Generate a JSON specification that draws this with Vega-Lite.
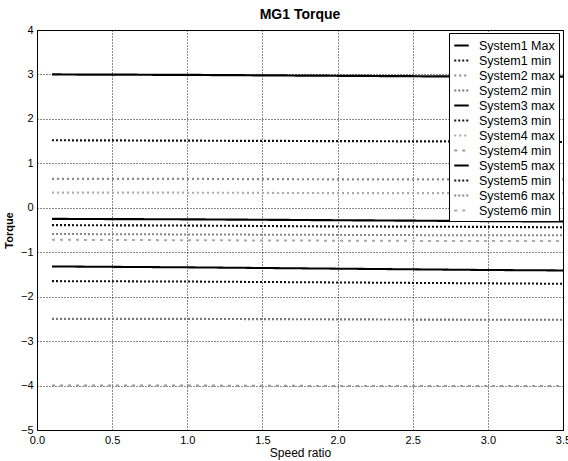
{
  "$schema": "https://vega.github.io/schema/vega-lite/v6.json",
  "width": 526,
  "height": 400,
  "autosize": {"type": "none"},
  "padding": {"left": 37, "top": 30, "right": 5, "bottom": 31},
  "background": "white",
  "title": {"text": "MG1 Torque", "fontSize": 14, "fontWeight": "bold", "font": "Liberation Sans", "color": "black", "offset": 2},
  "config": {
    "view": {"stroke": "black", "strokeWidth": 1},
    "font": "Liberation Sans",
    "axis": {"labelFont": "Liberation Sans", "labelFontSize": 11, "labelColor": "black", "titleColor": "black", "grid": true, "gridColor": "black", "gridDash": [1, 2], "gridOpacity": 0.9, "ticks": false, "domain": false, "labelPadding": 4}
  },
  "data": {"values": [
    {"s": "System1 Max", "x": 0.1, "y": 3.0}, {"s": "System1 Max", "x": 1, "y": 2.99}, {"s": "System1 Max", "x": 2, "y": 2.97}, {"s": "System1 Max", "x": 3, "y": 2.95}, {"s": "System1 Max", "x": 3.5, "y": 2.95},
    {"s": "System1 min", "x": 0.1, "y": 1.52}, {"s": "System1 min", "x": 1, "y": 1.51}, {"s": "System1 min", "x": 2, "y": 1.5}, {"s": "System1 min", "x": 3, "y": 1.49}, {"s": "System1 min", "x": 3.5, "y": 1.48},
    {"s": "System2 max", "x": 0.1, "y": 0.65}, {"s": "System2 max", "x": 1, "y": 0.65}, {"s": "System2 max", "x": 2, "y": 0.64}, {"s": "System2 max", "x": 3, "y": 0.64}, {"s": "System2 max", "x": 3.5, "y": 0.64},
    {"s": "System2 min", "x": 0.1, "y": -2.5}, {"s": "System2 min", "x": 1, "y": -2.5}, {"s": "System2 min", "x": 2, "y": -2.51}, {"s": "System2 min", "x": 3, "y": -2.52}, {"s": "System2 min", "x": 3.5, "y": -2.52},
    {"s": "System3 max", "x": 0.1, "y": -0.25}, {"s": "System3 max", "x": 1, "y": -0.26}, {"s": "System3 max", "x": 2, "y": -0.28}, {"s": "System3 max", "x": 3, "y": -0.3}, {"s": "System3 max", "x": 3.5, "y": -0.31},
    {"s": "System3 min", "x": 0.1, "y": -0.39}, {"s": "System3 min", "x": 1, "y": -0.4}, {"s": "System3 min", "x": 2, "y": -0.42}, {"s": "System3 min", "x": 3, "y": -0.43}, {"s": "System3 min", "x": 3.5, "y": -0.44},
    {"s": "System4 max", "x": 0.1, "y": 0.34}, {"s": "System4 max", "x": 1, "y": 0.34}, {"s": "System4 max", "x": 2, "y": 0.33}, {"s": "System4 max", "x": 3, "y": 0.33}, {"s": "System4 max", "x": 3.5, "y": 0.33},
    {"s": "System4 min", "x": 0.1, "y": -4.0}, {"s": "System4 min", "x": 1, "y": -4.0}, {"s": "System4 min", "x": 2, "y": -4.01}, {"s": "System4 min", "x": 3, "y": -4.01}, {"s": "System4 min", "x": 3.5, "y": -4.01},
    {"s": "System5 max", "x": 0.1, "y": -1.32}, {"s": "System5 max", "x": 1, "y": -1.34}, {"s": "System5 max", "x": 2, "y": -1.37}, {"s": "System5 max", "x": 3, "y": -1.4}, {"s": "System5 max", "x": 3.5, "y": -1.41},
    {"s": "System5 min", "x": 0.1, "y": -1.65}, {"s": "System5 min", "x": 1, "y": -1.66}, {"s": "System5 min", "x": 2, "y": -1.68}, {"s": "System5 min", "x": 3, "y": -1.7}, {"s": "System5 min", "x": 3.5, "y": -1.71},
    {"s": "System6 max", "x": 0.1, "y": -0.59}, {"s": "System6 max", "x": 1, "y": -0.6}, {"s": "System6 max", "x": 2, "y": -0.61}, {"s": "System6 max", "x": 3, "y": -0.62}, {"s": "System6 max", "x": 3.5, "y": -0.62},
    {"s": "System6 min", "x": 0.1, "y": -0.72}, {"s": "System6 min", "x": 1, "y": -0.73}, {"s": "System6 min", "x": 2, "y": -0.74}, {"s": "System6 min", "x": 3, "y": -0.75}, {"s": "System6 min", "x": 3.5, "y": -0.75}
  ]},
  "mark": {"type": "line", "interpolate": "linear"},
  "encoding": {
    "x": {"field": "x", "type": "quantitative", "scale": {"domain": [0, 3.5], "nice": false}, "axis": {"values": [0, 0.5, 1, 1.5, 2, 2.5, 3, 3.5], "title": "Speed ratio", "titleFontSize": 12, "titleFontWeight": "normal", "titlePadding": 2, "labelFlush": false}},
    "y": {"field": "y", "type": "quantitative", "scale": {"domain": [-5, 4], "nice": false}, "axis": {"values": [-5, -4, -3, -2, -1, 0, 1, 2, 3, 4], "title": "Torque", "titleFontSize": 11, "titleFontWeight": "bold", "titlePadding": 6}},
    "detail": {"field": "s"},
    "color": {"field": "s", "type": "nominal",
      "scale": {"domain": ["System1 Max", "System1 min", "System2 max", "System2 min", "System3 max", "System3 min", "System4 max", "System4 min", "System5 max", "System5 min", "System6 max", "System6 min"],
        "range": ["#000000", "#111111", "#888888", "#777777", "#000000", "#111111", "#aaaaaa", "#999999", "#000000", "#111111", "#888888", "#aaaaaa"]},
      "legend": {"title": null, "orient": "none", "legendX": 412, "legendY": 3, "fillColor": "white", "strokeColor": "black", "padding": 4, "labelFont": "Liberation Sans", "labelFontSize": 12.5, "labelColor": "black", "symbolType": "stroke", "symbolSize": 210, "rowPadding": 0, "labelOffset": 9}},
    "strokeDash": {"field": "s", "type": "nominal",
      "scale": {"domain": ["System1 Max", "System1 min", "System2 max", "System2 min", "System3 max", "System3 min", "System4 max", "System4 min", "System5 max", "System5 min", "System6 max", "System6 min"],
        "range": [[1, 0], [2, 2], [2, 3], [2, 2], [1, 0], [2, 2], [2, 3], [3, 5], [1, 0], [2, 2], [2, 2], [3, 5]]},
      "legend": {"title": null}},
    "strokeWidth": {"field": "s", "type": "nominal",
      "scale": {"domain": ["System1 Max", "System1 min", "System2 max", "System2 min", "System3 max", "System3 min", "System4 max", "System4 min", "System5 max", "System5 min", "System6 max", "System6 min"],
        "range": [2.2, 2, 1, 1.2, 2.8, 2, 1, 1, 3, 2, 1, 1]},
      "legend": {"title": null}}
  }
}
